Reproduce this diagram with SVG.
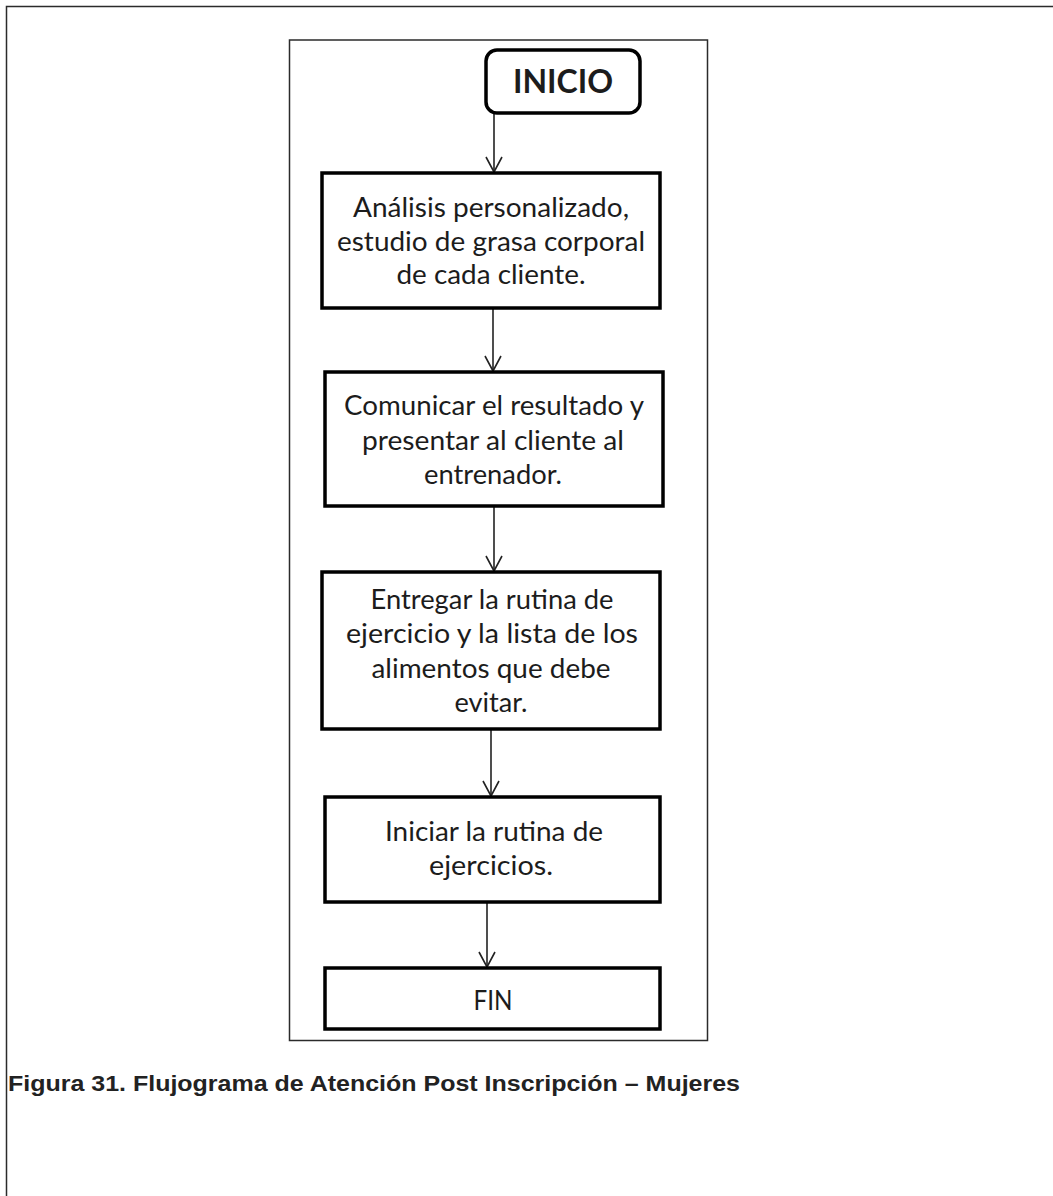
<svg xmlns="http://www.w3.org/2000/svg" width="1053" height="1196" viewBox="0 0 1053 1196">
  <style>
    .frame { fill: none; stroke: #2b2b2b; stroke-width: 1.5; }
    .box { fill: #ffffff; stroke: #000000; stroke-width: 3.5; }
    .lbl { font-family: Lato, "Open Sans", "Liberation Sans", sans-serif; font-size: 27px; fill: #1c1c1c; text-anchor: middle; }
    .head { font-family: Lato, "Open Sans", "Liberation Sans", sans-serif; font-size: 32px; font-weight: bold; fill: #1c1c1c; text-anchor: middle; }
    .cap { font-family: "Liberation Sans", Arial, sans-serif; font-size: 22px; font-weight: bold; fill: #222222; }
    .conn { fill: none; stroke: #222222; stroke-width: 1.6; }
  </style>
  <defs>
    <marker id="vhead" markerUnits="userSpaceOnUse" markerWidth="20" markerHeight="20" refX="16" refY="9" orient="auto" viewBox="0 0 20 18">
      <path d="M1,1 L16,9 L1,17" fill="none" stroke="#222222" stroke-width="1.6"/>
    </marker>
  </defs>

  <rect width="1053" height="1196" fill="#ffffff"/>

  <!-- page border (top and left) -->
  <path class="frame" d="M6.5,1196 V6.5 H1053"/>
  <!-- figure border -->
  <rect class="frame" x="289.5" y="40" width="418" height="1000.5"/>

  <!-- connectors -->
  <g id="connectors">
    <line class="conn" x1="494" y1="113" x2="494" y2="172" marker-end="url(#vhead)"/>
    <line class="conn" x1="493" y1="308" x2="493" y2="371" marker-end="url(#vhead)"/>
    <line class="conn" x1="494" y1="506" x2="494" y2="571" marker-end="url(#vhead)"/>
    <line class="conn" x1="491" y1="729" x2="491" y2="796" marker-end="url(#vhead)"/>
    <line class="conn" x1="487" y1="902" x2="487" y2="967" marker-end="url(#vhead)"/>
  </g>

  <g id="inicio">
    <rect class="box" x="486" y="50" width="154" height="63" rx="11" ry="11"/>
    <text class="head" x="563" y="93">INICIO</text>
  </g>

  <g id="analisis">
    <rect class="box" x="322" y="173" width="338" height="135"/>
    <text class="lbl" x="491" y="217" textLength="276" lengthAdjust="spacingAndGlyphs">Análisis personalizado,</text>
    <text class="lbl" x="491" y="251" textLength="308" lengthAdjust="spacingAndGlyphs">estudio de grasa corporal</text>
    <text class="lbl" x="491" y="284" textLength="189" lengthAdjust="spacingAndGlyphs">de cada cliente.</text>
  </g>

  <g id="comunicar">
    <rect class="box" x="325" y="372" width="338" height="134"/>
    <text class="lbl" x="494" y="415" textLength="300" lengthAdjust="spacingAndGlyphs">Comunicar el resultado y</text>
    <text class="lbl" x="493" y="450" textLength="262" lengthAdjust="spacingAndGlyphs">presentar al cliente al</text>
    <text class="lbl" x="493" y="484" textLength="138" lengthAdjust="spacingAndGlyphs">entrenador.</text>
  </g>

  <g id="entregar">
    <rect class="box" x="322" y="572" width="338" height="157"/>
    <text class="lbl" x="492" y="609" textLength="243" lengthAdjust="spacingAndGlyphs">Entregar la rutina de</text>
    <text class="lbl" x="492" y="643" textLength="292" lengthAdjust="spacingAndGlyphs">ejercicio  y la lista de los</text>
    <text class="lbl" x="491" y="678" textLength="239" lengthAdjust="spacingAndGlyphs">alimentos que debe</text>
    <text class="lbl" x="491" y="712" textLength="73" lengthAdjust="spacingAndGlyphs">evitar.</text>
  </g>

  <g id="iniciar">
    <rect class="box" x="325" y="797" width="335" height="105"/>
    <text class="lbl" x="494" y="841" textLength="218" lengthAdjust="spacingAndGlyphs">Iniciar la rutina de</text>
    <text class="lbl" x="491" y="875" textLength="124" lengthAdjust="spacingAndGlyphs">ejercicios.</text>
  </g>

  <g id="fin">
    <rect class="box" x="325" y="968" width="335" height="61"/>
    <text class="lbl" x="493" y="1010" textLength="39" lengthAdjust="spacingAndGlyphs">FIN</text>
  </g>

  <text class="cap" x="8" y="1091" textLength="732" lengthAdjust="spacingAndGlyphs">Figura 31. Flujograma de Atención Post Inscripción – Mujeres</text>
</svg>
